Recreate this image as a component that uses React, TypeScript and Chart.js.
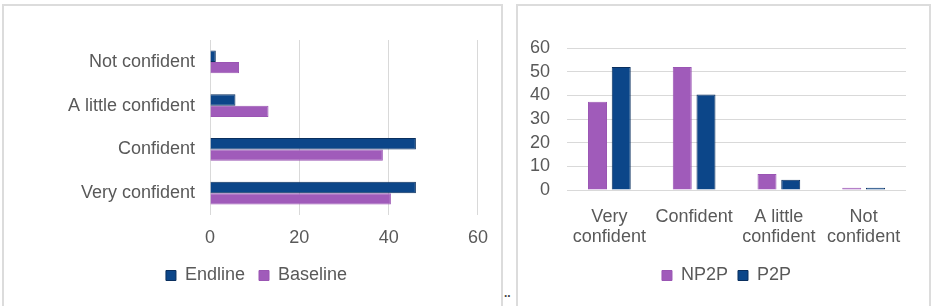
import React, { useEffect, useRef } from "react";
import { Chart, registerables } from "chart.js";

Chart.register(...registerables);

// Left chart (horizontal bars)
const leftCategories = ["Not confident", "A little confident", "Confident", "Very confident"];
const endlineValues = [1.3, 5.7, 46.1, 46.1];
const baselineValues = [6.5, 13.1, 38.7, 40.5];
const leftTicks = [0, 20, 40, 60];

// Right chart (vertical bars)
const rightCategories = [["Very", "confident"], ["Confident"], ["A little", "confident"], ["Not", "confident"]];
const np2pValues = [37.3, 52, 6.8, 1.0];
const p2pValues = [52, 40.4, 4.3, 1.0];

const PURPLE = "#A05BBA";
const NAVY = "#0C4689";
const TEXT = "#595959";
const GRID = "#d9d9d9";
const FONT = "'Liberation Sans', Arial, sans-serif";

// Moves the legend so that its row is centred at (x, y) in canvas coordinates.
const legendPlace = {
  id: "legendPlace",
  afterLayout(chart: any, _args: any, opts: any) {
    const lg = chart.legend;
    if (!lg || opts == null || opts.x == null) return;
    const pad = lg.options.labels.padding;
    const fs = lg.options.labels.font.size;
    const dx = opts.x - (lg.left + lg.right) / 2;
    const dy = opts.y - (lg.top + pad + fs / 2);
    lg.left += dx;
    lg.right += dx;
    lg.top += dy;
    lg.bottom += dy;
  },
};

export default function App() {
  const leftRef = useRef<HTMLCanvasElement>(null);
  const rightRef = useRef<HTMLCanvasElement>(null);

  useEffect(() => {
    const font = { family: FONT, size: 18, lineHeight: 1.1 };
    const font1 = { family: FONT, size: 18, lineHeight: 1.0 };
    const left = new Chart(leftRef.current!, {
      type: "bar",
      data: {
        labels: leftCategories,
        datasets: [
          { label: "Endline", data: endlineValues, backgroundColor: NAVY, borderColor: "#0A2F5E", borderWidth: 1 },
          { label: "Baseline", data: baselineValues, backgroundColor: PURPLE, borderColor: "#9A55B3", borderWidth: 1 },
        ],
      },
      plugins: [legendPlace],
      options: {
        indexAxis: "y",
        animation: false,
        responsive: false,
        maintainAspectRatio: false,
        layout: { padding: { left: 30, right: 23, top: 34, bottom: 13 } },
        datasets: { bar: { categoryPercentage: 0.52, barPercentage: 1 } },
        plugins: {
          legend: {
            position: "bottom",
            labels: { boxWidth: 10, boxHeight: 10, padding: 14, color: TEXT, font: font1 },
          },
          legendPlace: { x: 251.5, y: 269.5 },
          tooltip: { enabled: false },
        },
        scales: {
          x: {
            min: 0,
            max: 60,
            afterBuildTicks: (s: any) => { s.ticks = leftTicks.map((v) => ({ value: v })); },
            grid: { color: GRID, lineWidth: 1, drawTicks: false },
            border: { display: false },
            ticks: { color: TEXT, font: font1, padding: 14, maxRotation: 0 },
            afterFit: (s: any) => { s.height = 32; },
          },
          y: {
            grid: { display: false, drawTicks: false },
            border: { display: false },
            ticks: { color: TEXT, font, padding: 15, autoSkip: false },
            afterFit: (s: any) => { s.width = 175; },
          },
        },
      },
    } as any);

    const right = new Chart(rightRef.current!, {
      type: "bar",
      data: {
        labels: rightCategories as any,
        datasets: [
          { label: "NP2P", data: np2pValues, backgroundColor: PURPLE, borderColor: "#9A55B3", borderWidth: 1 },
          { label: "P2P", data: p2pValues, backgroundColor: NAVY, borderColor: "#0A2F5E", borderWidth: 1 },
        ],
      },
      plugins: [legendPlace],
      options: {
        animation: false,
        responsive: false,
        maintainAspectRatio: false,
        layout: { padding: { left: 0, right: 23, top: 42, bottom: 17 } },
        datasets: { bar: { categoryPercentage: 0.56, barPercentage: 0.8 } },
        plugins: {
          legend: {
            position: "bottom",
            labels: { boxWidth: 10, boxHeight: 10, padding: 10, color: TEXT, font },
          },
          legendPlace: { x: 207.5, y: 269.5 },
          tooltip: { enabled: false },
        },
        scales: {
          x: {
            grid: { display: false, drawTicks: false },
            border: { display: false },
            ticks: { color: TEXT, font, padding: 17, maxRotation: 0, autoSkip: false },
            afterFit: (s: any) => { s.height = 57; },
          },
          y: {
            min: 0,
            max: 60,
            grid: { color: GRID, lineWidth: 1, drawTicks: false },
            border: { display: false },
            ticks: { color: TEXT, font, padding: 17, stepSize: 10 },
            afterFit: (s: any) => { s.width = 48; },
          },
        },
      },
    } as any);

    return () => {
      left.destroy();
      right.destroy();
    };
  }, []);

  return (
    <div style={{ position: "fixed", left: 0, top: 0, width: 935, height: 306, background: "#fff", overflow: "hidden" }}>
      <div style={{ position: "absolute", left: 2, top: 4, width: 501, height: 310, border: "2px solid #dcdcdc", boxSizing: "border-box" }} />
      <div style={{ position: "absolute", left: 516, top: 4, width: 415, height: 310, border: "2px solid #dcdcdc", boxSizing: "border-box" }} />
      <canvas ref={leftRef} width={497} height={296} style={{ position: "absolute", left: 5, top: 6, width: 497, height: 296 }} />
      <canvas ref={rightRef} width={410} height={296} style={{ position: "absolute", left: 519, top: 6, width: 410, height: 296 }} />
      <div style={{ position: "absolute", left: 504, top: 286, fontSize: 12, color: "#444", fontFamily: FONT, fontWeight: "bold" }}>..</div>
    </div>
  );
}
